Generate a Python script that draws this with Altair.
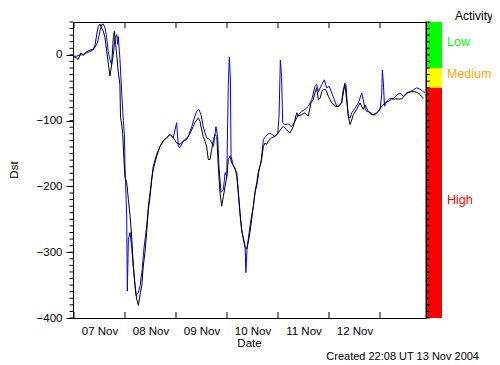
import altair as alt
import pandas as pd

# Hours since 07 Nov 2004 00:00 UT and Dst (nT)
black_hours = [0, 1.3, 2.0, 3.2, 4.4, 6.0, 7.5, 9.1, 9.9, 10.7, 11.4, 12.2, 13.0, 13.8, 14.6, 15.4, 16.1, 16.9, 17.7,
               18.5, 19.0, 19.6, 20.1, 20.8, 21.6, 21.9, 22.4, 22.9, 23.5, 24.0, 24.8, 25.6, 26.4, 27.2, 27.9, 28.7,
               29.5, 30.3, 31.1, 31.9, 32.6, 33.4, 34.2, 35.0, 35.8, 36.6, 37.3, 38.1, 38.9, 40.5, 42.0, 43.6, 45.2,
               46.7, 48.3, 49.9, 51.4, 53.0, 54.6, 56.1, 56.9, 58.5, 59.3, 60.1, 60.8, 61.6, 62.4, 63.2, 64.0, 64.8,
               65.6, 66.4, 67.2, 67.9, 68.7, 69.5, 70.3, 71.1, 71.9, 72.6, 73.4, 74.2, 75.8, 76.6, 77.3, 78.1, 78.9,
               79.7, 80.5, 81.3, 82.0, 82.8, 83.6, 84.4, 85.2, 86.0, 86.7, 87.5, 88.3, 89.1, 89.9, 90.7, 91.4, 93.0,
               94.6, 96.1, 97.7, 98.5, 100.1, 101.6, 103.2, 104.8, 105.6, 107.1, 108.7, 110.3, 111.5, 112.6, 113.4,
               114.2, 115.0, 115.8, 116.6, 117.3, 118.1, 118.9, 119.7, 121.3, 122.8, 124.4, 126.0, 126.7, 127.5,
               128.3, 129.1, 129.9, 130.7, 131.4, 133.0, 134.6, 136.1, 136.9, 138.5, 140.1, 141.6, 143.2, 144.8,
               146.4, 147.9, 149.5, 151.1, 152.6, 154.2, 155.8, 157.3, 158.9, 160.5, 162.1, 163.6, 164.4]
black_dst = [-3, -5, -7, 3, 0, 5, 7, 9, 15, 31, 43, 47, 41, 36, 26, 5, -12, -32, -15,
             26, 36, 16, 0, -25, -45, -95, -105, -119, -159, -186, -194, -220, -245, -280, -321, -351,
             -371, -381, -364, -351, -321, -300, -270, -235, -215, -189, -174, -164, -154, -139, -131, -126, -121,
             -126, -134, -136, -131, -129, -119, -109, -103, -96, -101, -114, -124, -131, -139, -159, -159, -144,
             -129, -121, -124, -169, -209, -230, -215, -200, -185, -159, -154, -164, -172, -185, -209, -240, -268,
             -280, -293, -295, -285, -270, -250, -230, -209, -194, -179, -169, -159, -139, -134, -136, -131, -126,
             -124, -119, -111, -109, -114, -119, -109, -88, -93, -91, -88, -93, -73, -68, -58,
             -50, -68, -66, -56, -53, -52, -56, -63, -73, -78, -78, -73, -58, -45,
             -68, -93, -106, -99, -91, -83, -73, -83, -76, -86, -91, -91, -86, -78,
             -73, -71, -67, -67, -67, -67, -61, -57, -56, -56, -58, -63, -66]

blue_hours = [0, 1.3, 2.8, 4.4, 6.0, 7.5, 9.1, 10.7, 11.4, 12.2, 13.0, 13.8, 14.6, 15.4, 16.1, 16.9, 17.7, 18.5,
              19.3, 20.1, 20.6, 20.8, 21.6, 22.4, 23.2, 23.7, 24.0, 24.8, 25.1, 25.6, 26.4, 27.2, 28.2, 29.2, 30.3,
              31.1, 32.1, 32.9, 34.2, 35.0, 35.8, 37.3, 38.9, 40.5, 42.0, 43.6, 45.2, 46.7, 48.3, 49.1, 49.9, 51.4,
              53.8, 55.4, 56.9, 57.7, 58.8, 59.8, 60.8, 62.4, 64.0, 64.8, 65.6, 66.4, 66.8, 67.6, 68.2, 69.2, 70.3,
              71.1, 71.9, 72.6, 73.1, 73.6, 73.9, 75.0, 76.6, 77.3, 78.1, 78.9, 79.7, 80.5, 80.9, 81.4, 82.4, 83.3,
              84.4, 85.2, 86.3, 87.1, 88.0, 89.1, 90.2, 91.1, 92.2, 93.3, 94.6, 95.9, 96.5, 97.1, 97.7, 98.2, 99.2,
              100.8, 102.4, 104.0, 105.6, 107.1, 108.7, 110.3, 111.9, 113.4, 114.2, 115.0, 116.6, 117.8, 118.9,
              120.1, 121.3, 122.5, 123.6, 124.9, 126.0, 126.7, 127.5, 128.0, 128.6, 129.1, 129.9, 130.7, 132.2,
              133.8, 135.4, 136.1, 136.9, 137.7, 139.3, 140.8, 142.4, 144.0, 144.8, 145.1, 145.6, 146.1, 147.2,
              148.7, 150.3, 151.9, 153.4, 155.0, 156.6, 158.1, 159.7, 161.3, 162.8, 164.4, 165.2]
blue_dst = [-2, -2, 0, 0, 3, 5, 8, 16, 23, 36, 46, 47, 41, 26, 5, -7, -15, 0,
            26, 31, 16, 28, -5, -55, -100, -121, -169, -245, -359, -280, -270, -295, -331, -366, -361,
            -351, -326, -295, -260, -230, -209, -169, -151, -139, -131, -126, -121, -126, -103, -139, -141, -131,
            -124, -109, -93, -86, -83, -91, -109, -126, -129, -134, -139, -119, -109, -124, -169, -209, -205,
            -179, -185, -48, -3, -38, -154, -169, -179, -205, -240, -265, -278, -290, -331, -295, -270, -250,
            -230, -209, -194, -174, -164, -129, -124, -121, -119, -121, -124, -119, -93, -8, -33, -103, -106,
            -105, -109, -101, -91, -86, -83, -78, -68, -48, -45, -56, -45, -38, -50,
            -48, -58, -68, -78, -78, -71, -53, -43, -45, -76, -93, -96, -88, -81,
            -73, -58, -68, -81, -86, -87, -91, -88, -83, -61, -23, -43, -78, -71,
            -66, -66, -61, -58, -63, -58, -56, -53, -50, -52, -56, -58]

day_labels = ["07 Nov", "08 Nov", "09 Nov", "10 Nov", "11 Nov", "12 Nov"]
day_starts = [0, 24, 48, 72, 96, 120, 144]
label_hours = [12, 36, 60, 84, 108, 132]
y_major = [-400, -300, -200, -100, 0]
y_minor = list(range(-400, 51, 10))

level_names = ["Low", "Medium", "High"]
level_top = [50, -20, -50]
level_bottom = [-20, -50, -400]
level_colors = ["#00ff00", "#ffff00", "#ff0000"]
label_colors = ["#00ff00", "#ffa500", "#ff0000"]

FONT = "Liberation Sans"
W, H = 353, 296

xscale = alt.Scale(domain=[-0.47, 165.65], nice=False, zero=False)
yscale = alt.Scale(domain=[-400, 50], nice=False, zero=False)

label_expr = "[" + ",".join("'%s'" % d for d in day_labels) + "][floor(datum.value/24)]"
x_axis = alt.Axis(values=label_hours, labelExpr=label_expr, ticks=False, domain=False, grid=False,
                  title=None, labelFont=FONT, labelFontSize=11.5, labelColor="black", labelPadding=7)
y_axis = alt.Axis(values=y_major, format="d", ticks=True, tickSize=7, tickColor="black", domain=False,
                  grid=False, title=None, labelFont=FONT, labelFontSize=11.5, labelColor="black",
                  labelPadding=4)

black_df = pd.DataFrame({"h": black_hours, "dst": black_dst})
blue_df = pd.DataFrame({"h": blue_hours, "dst": blue_dst})
levels_df = pd.DataFrame({"name": level_names, "top": level_top, "bottom": level_bottom,
                          "color": level_colors})
minor_df = pd.DataFrame({"v": y_minor})
days_df = pd.DataFrame({"h": day_starts})

colorbar = alt.Chart(levels_df).mark_rect().encode(
    x=alt.value(W + 1), x2=alt.value(W + 16),
    y=alt.Y("top:Q", scale=yscale, axis=y_axis), y2="bottom:Q",
    color=alt.Color("color:N", scale=None),
)

blue_line = alt.Chart(blue_df).mark_line(color="#0000ff", strokeWidth=1).encode(
    x=alt.X("h:Q", scale=xscale, axis=x_axis),
    y=alt.Y("dst:Q", scale=yscale, axis=y_axis),
)
black_line = alt.Chart(black_df).mark_line(color="black", strokeWidth=1).encode(
    x=alt.X("h:Q", scale=xscale, axis=x_axis),
    y=alt.Y("dst:Q", scale=yscale, axis=y_axis),
)

left_minor = alt.Chart(minor_df).mark_rule(color="black", strokeWidth=1).encode(
    x=alt.value(-3.5), x2=alt.value(0), y=alt.Y("v:Q", scale=yscale, axis=y_axis))
bar_ticks = alt.Chart(minor_df).mark_rule(color="black", strokeWidth=1).encode(
    x=alt.value(W), x2=alt.value(W + 4), y=alt.Y("v:Q", scale=yscale, axis=y_axis))
bottom_ticks = alt.Chart(days_df).mark_rule(color="black", strokeWidth=1).encode(
    x=alt.X("h:Q", scale=xscale, axis=x_axis), y=alt.value(H), y2=alt.value(H - 6))
top_ticks = alt.Chart(days_df).mark_rule(color="black", strokeWidth=1).encode(
    x=alt.X("h:Q", scale=xscale, axis=x_axis), y=alt.value(0), y2=alt.value(6))
bar_edge = alt.Chart(days_df.head(1)).mark_rule(color="black", strokeWidth=1).encode(
    x=alt.value(W), y=alt.value(0), y2=alt.value(H))


def label(txt, x, y, size=11, color="black", align="center", angle=0):
    return alt.Chart(pd.DataFrame({"t": [txt]})).mark_text(
        font=FONT, fontSize=size, color=color, align=align, baseline="middle", angle=angle
    ).encode(x=alt.value(x), y=alt.value(y), text="t:N")


texts = [
    label("Dst", -58, 148, size=11.5, angle=270),
    label("Date", W / 2, 322, size=11.5),
    label("Created 22:08 UT 13 Nov 2004", 406, 335, size=11, align="right"),
    label("Activity", 401, -6, size=12),
    label(level_names[0], 374, 20, size=12.5, color=label_colors[0], align="left"),
    label(level_names[1], 374, 52, size=12.5, color=label_colors[1], align="left"),
    label(level_names[2], 374, 178, size=12.5, color=label_colors[2], align="left"),
]

chart = alt.layer(
    colorbar, blue_line, black_line, left_minor, bar_ticks, bottom_ticks, top_ticks, bar_edge, *texts
).properties(
    width=W, height=H,
    autosize=alt.AutoSizeParams(type="none"),
    padding={"left": 65, "top": 14, "right": 66, "bottom": 47},
    background="white",
).configure_view(stroke="black", strokeWidth=1)

chart.save("out.html", embed_options={"renderer": "svg", "actions": False})
